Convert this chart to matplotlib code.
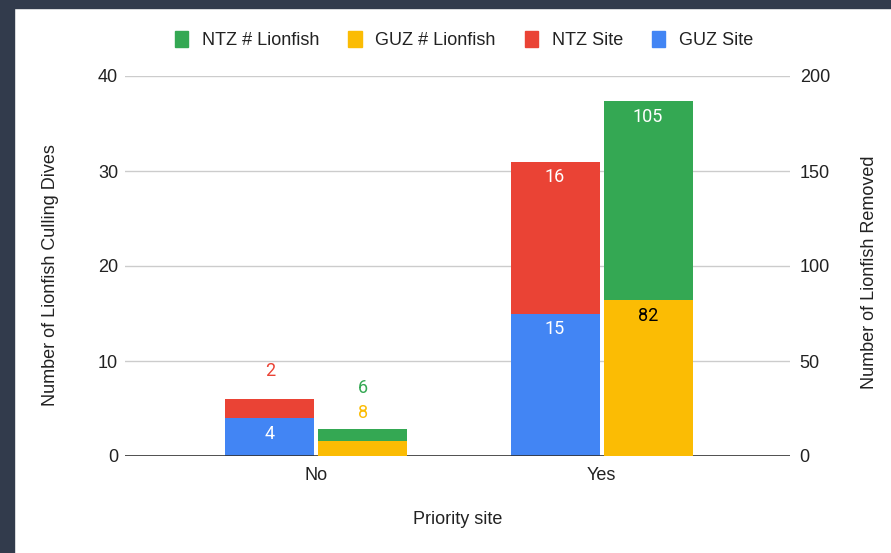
import numpy as np
import matplotlib.pyplot as plt
from matplotlib.patches import Rectangle, Patch

categories = ['No', 'Yes']
guz_site = [4, 15]
ntz_site = [2, 16]
guz_fish = [8, 82]
ntz_fish = [6, 105]

blue = '#4285f4'
red = '#ea4335'
yellow = '#fbbc04'
green = '#34a853'
txt = '#222222'
fs = 13

fig = plt.figure(figsize=(8.91, 5.53), dpi=100)
fig.patch.set_facecolor('white')
# dark frame of the screenshot
fig.patches.append(Rectangle((0, 1 - 8 / 553), 1, 8 / 553, transform=fig.transFigure,
                             color='#323b4c', zorder=0))
fig.patches.append(Rectangle((0, 0), 14 / 891, 1, transform=fig.transFigure,
                             color='#323b4c', zorder=0))

ax = fig.add_axes([125 / 891, 1 - 456 / 553, 665 / 891, 380 / 553])
ax2 = ax.twinx()

x = np.arange(len(categories))
w = 0.312
off = 0.163

ax.bar(x - off, guz_site, w, color=blue, zorder=3)
ax.bar(x - off, ntz_site, w, bottom=guz_site, color=red, zorder=3)
ax2.bar(x + off, guz_fish, w, color=yellow, zorder=3)
ax2.bar(x + off, ntz_fish, w, bottom=guz_fish, color=green, zorder=3)

ax.set_xlim(-0.67, 1.66)
ax.set_ylim(0, 40)
ax2.set_ylim(0, 200)
ax.set_yticks([0, 10, 20, 30, 40])
ax2.set_yticks([0, 50, 100, 150, 200])
ax.set_xticks(x)
ax.set_xticklabels(categories)

ax.grid(axis='y', color='#cccccc', linewidth=1, zorder=0)
ax.set_axisbelow(True)
for a in (ax, ax2):
    for s in a.spines.values():
        s.set_visible(False)
    a.tick_params(length=0, labelsize=fs, labelcolor=txt)
    for lab in a.get_xticklabels() + a.get_yticklabels():
        lab.set_fontfamily('Liberation Sans')
ax.axhline(0, color='#333333', linewidth=1.2, zorder=4)
ax.tick_params(axis='x', pad=8)
ax.tick_params(axis='y', pad=5)
ax2.tick_params(axis='y', pad=7)

ax.set_xlabel('Priority site', fontsize=fs, color=txt, family='Liberation Sans', labelpad=19)
ax.set_ylabel('Number of Lionfish Culling Dives', fontsize=fs, color=txt,
              family='Liberation Sans', va='center')
ax2.set_ylabel('Number of Lionfish Removed', fontsize=fs, color=txt,
               family='Liberation Sans', va='center')
ax.yaxis.set_label_coords(-0.1115, 0.475)
ax2.yaxis.set_label_coords(1.119, 0.484)


def seg_label(axis, xpos, bottom, val, ppu, color):
    # labels sit just under the top of segments that are tall enough
    if val * ppu > 30:
        axis.annotate(str(val), (xpos, bottom + val), xytext=(0, -16),
                      textcoords='offset pixels', ha='center', va='center',
                      fontsize=fs, color=color, family='Roboto', zorder=5)


for i in range(len(categories)):
    seg_label(ax, x[i] - off, 0, guz_site[i], 9.5, 'white')
    seg_label(ax, x[i] - off, guz_site[i], ntz_site[i], 9.5, 'white')
    seg_label(ax2, x[i] + off, 0, guz_fish[i], 1.9, 'black')
    seg_label(ax2, x[i] + off, guz_fish[i], ntz_fish[i], 1.9, 'white')

# small segment labels placed above the stacks
tot = guz_site[0] + ntz_site[0]
ax.annotate(str(ntz_site[0]), (x[0] - off, tot), xytext=(0, 28), textcoords='offset pixels',
            ha='center', va='center', fontsize=fs, color=red, family='Roboto')
tot2 = guz_fish[0] + ntz_fish[0]
ax2.annotate(str(ntz_fish[0]), (x[0] + off, tot2), xytext=(0, 41), textcoords='offset pixels',
             ha='center', va='center', fontsize=fs, color=green, family='Roboto')
ax2.annotate(str(guz_fish[0]), (x[0] + off, tot2), xytext=(0, 16), textcoords='offset pixels',
             ha='center', va='center', fontsize=fs, color=yellow, family='Roboto')

# legend
handles = [Patch(color=green), Patch(color=yellow), Patch(color=red), Patch(color=blue)]
labels = ['NTZ # Lionfish', 'GUZ # Lionfish', 'NTZ Site', 'GUZ Site']
fig.legend(handles, labels, loc='center', bbox_to_anchor=(464 / 891, 1 - 40 / 553), ncol=4,
           frameon=False, handlelength=0.75, handleheight=0.95, handletextpad=0.75,
           columnspacing=1.6, prop={'family': 'Liberation Sans', 'size': fs},
           labelcolor=txt)

fig.savefig('out.png', dpi=100)
